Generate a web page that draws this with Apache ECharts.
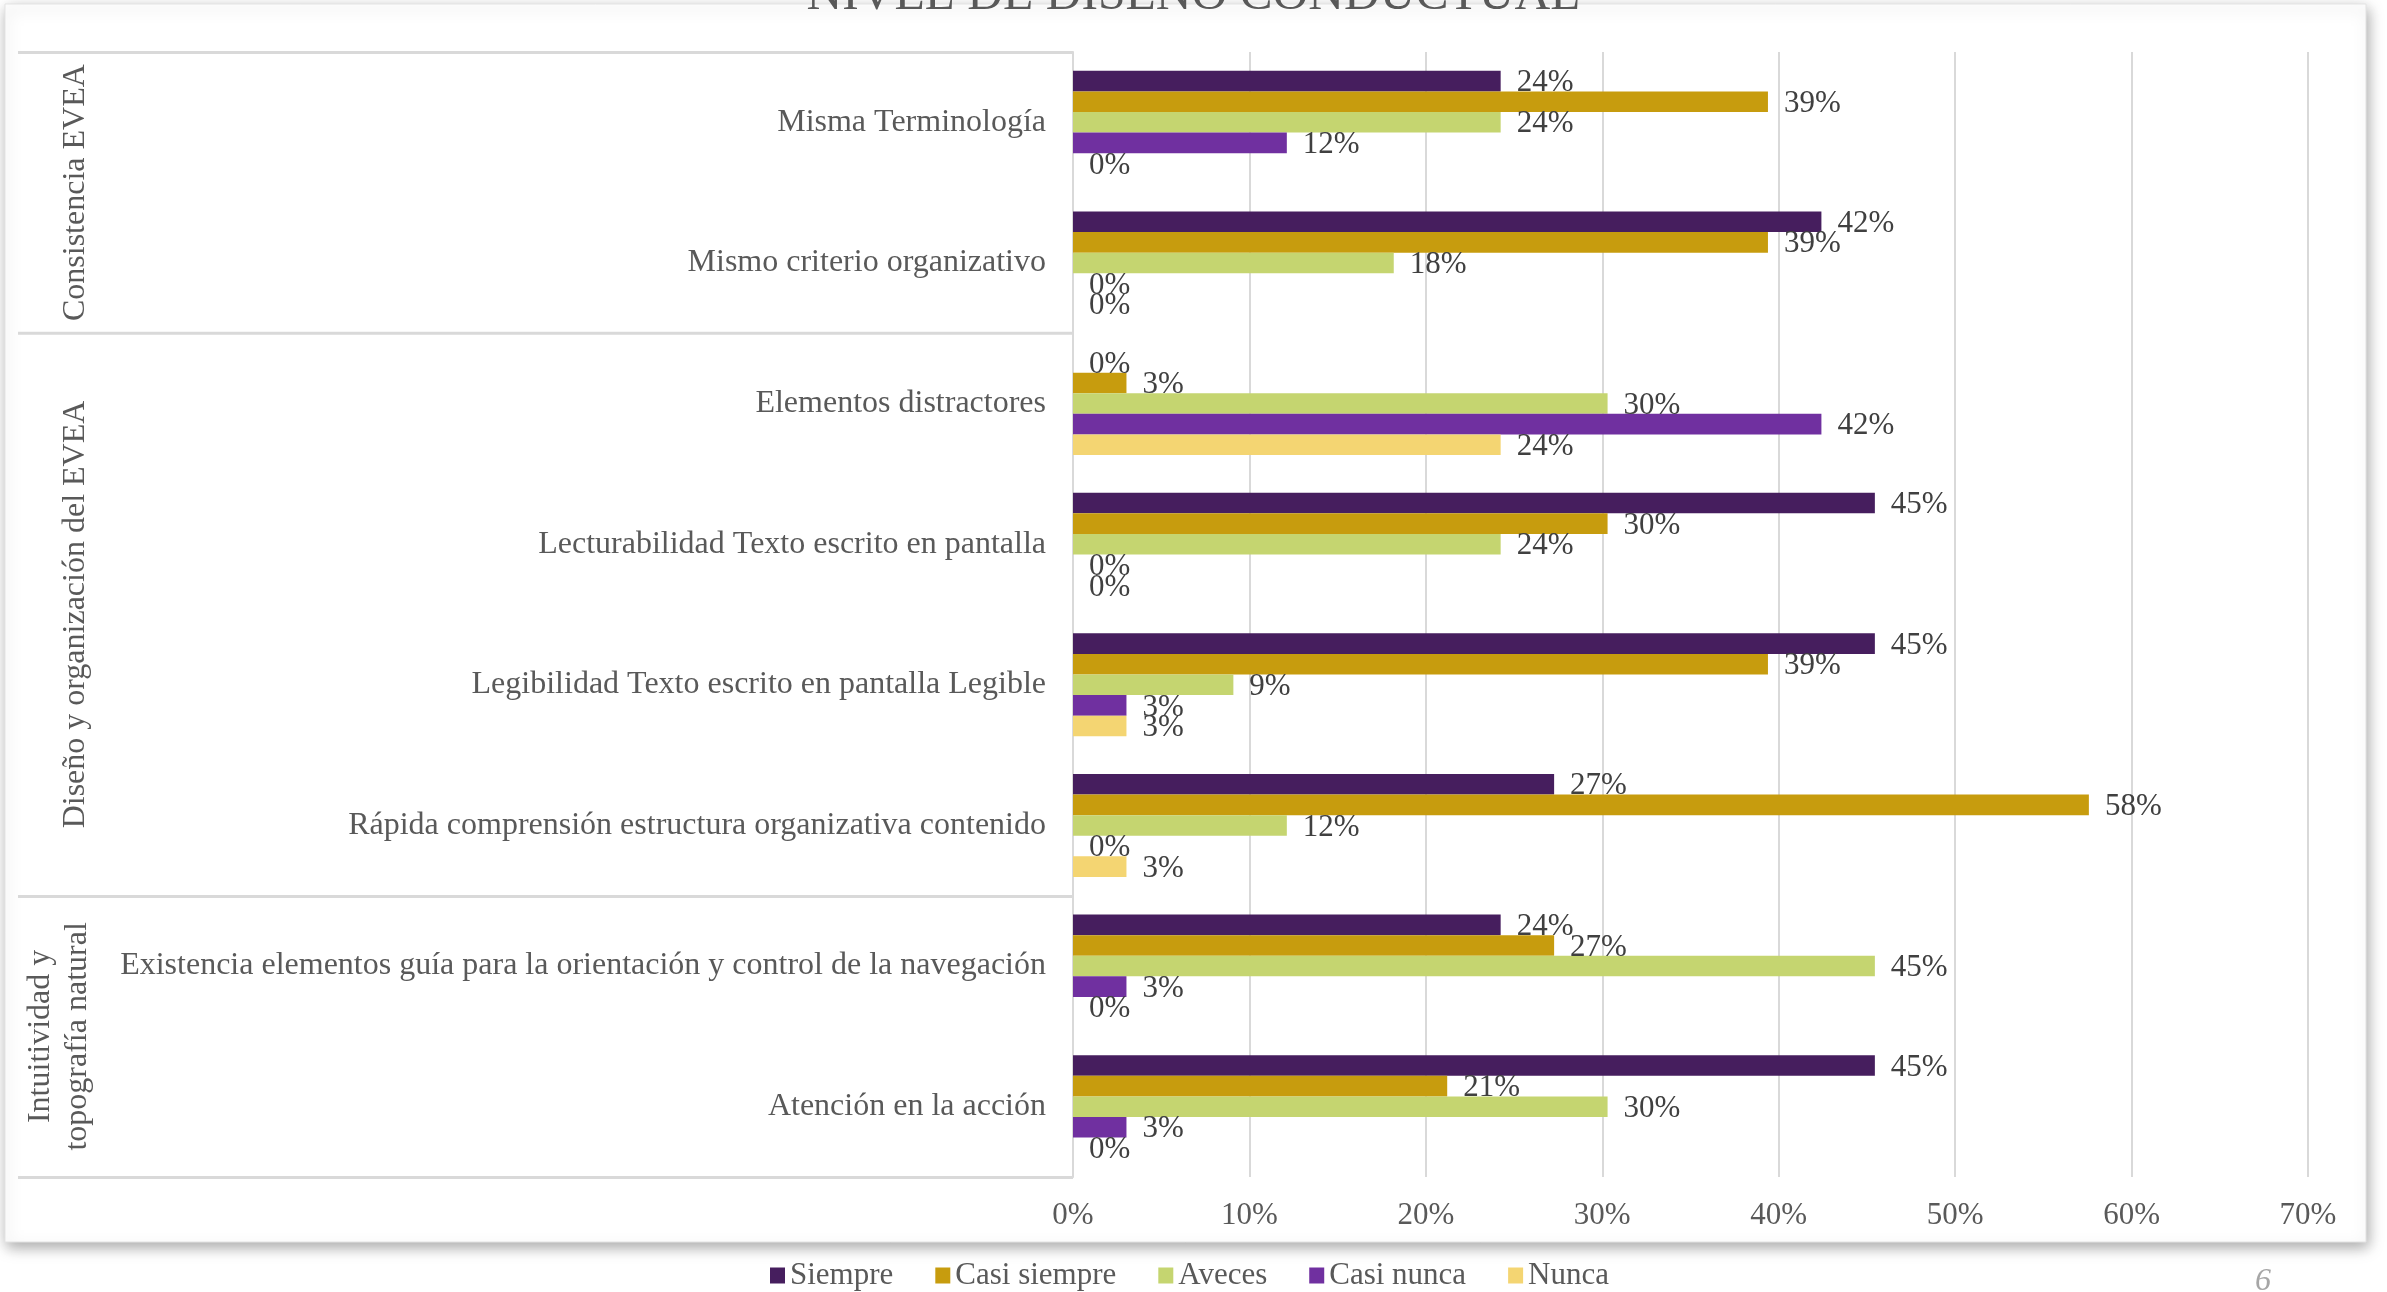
<!DOCTYPE html>
<html>
<head>
<meta charset="utf-8">
<title>Nivel de diseño conductual</title>
<script src="https://cdn.jsdelivr.net/npm/echarts@6/dist/echarts.min.js"></script>
<style>
html, body { margin: 0; padding: 0; background: #fff; }
#main { width: 2387px; height: 1292px; }
</style>
</head>
<body>
<div id="main"></div>
<script>
// categorias de arriba hacia abajo
var categorias = [
  'Misma Terminología',
  'Mismo criterio organizativo',
  'Elementos distractores',
  'Lecturabilidad Texto escrito en pantalla',
  'Legibilidad Texto escrito en pantalla Legible',
  'Rápida comprensión estructura organizativa contenido',
  'Existencia elementos guía para la orientación y control de la navegación',
  'Atención en la acción'
]
var grupos = [
  { nombre: 'Consistencia EVEA', desde: 0, hasta: 1 },
  { nombre: 'Diseño y organización del EVEA', desde: 2, hasta: 5 },
  { nombre: 'Intuitividad y\ntopografía natural', desde: 6, hasta: 7 }
]
var cortesGrupo = [0, 2, 6]

// porcentajes (n = 33)
var siempre     = [24.24, 42.42, 0,     45.45, 45.45, 27.27, 24.24, 45.45]
var casiSiempre = [39.39, 39.39, 3.03,  30.3,  39.39, 57.58, 27.27, 21.21]
var aveces      = [24.24, 18.18, 30.3,  24.24, 9.09,  12.12, 45.45, 30.3]
var casiNunca   = [12.12, 0,     42.42, 0,     3.03,  0,     3.03,  3.03]
var nunca       = [0,     0,     24.24, 0,     3.03,  3.03,  0,     0]

var nombresSerie = ['Siempre', 'Casi siempre', 'Aveces', 'Casi nunca', 'Nunca']
var valoresSerie = [siempre, casiSiempre, aveces, casiNunca, nunca]
var colores = ['#461E5E', '#C79C0E', '#C5D570', '#7030A0', '#F4D572']

var ejeMin = 0, ejeMax = 70, ejePaso = 10

var fuente = "'Liberation Serif', 'Times New Roman', serif"

var myChart = echarts.init(document.getElementById('main'))

var series = nombresSerie.map(function (nombre, i) {
  return {
    name: nombre,
    type: 'bar',
    data: valoresSerie[i],
    barWidth: 20.6,
    barGap: '0%',
    itemStyle: { color: colores[i] },
    label: {
      show: true,
      position: 'right',
      distance: 16,
      offset: [0, 2],
      color: '#404040',
      fontFamily: fuente,
      fontSize: 31,
      formatter: function (p) { return Math.round(p.value) + '%' }
    }
  }
})

var fondo = [
  {
    id: 'tarjeta',
    type: 'rect',
    z: -10,
    silent: true,
    shape: { x: 5, y: 4, width: 2361, height: 1238 },
    style: {
      fill: '#fff',
      stroke: '#E3E3E3',
      lineWidth: 1,
      shadowBlur: 14,
      shadowOffsetX: 2,
      shadowOffsetY: 5,
      shadowColor: 'rgba(0,0,0,0.35)'
    }
  },
  {
    id: 'pagina',
    type: 'text',
    x: 2255,
    y: 1266,
    style: { text: '6', fontFamily: fuente, fontStyle: 'italic', fontSize: 32, fill: '#A6A6A6' }
  }
]

myChart.setOption({
  animation: false,
  textStyle: { fontFamily: fuente },
  title: {
    text: 'NIVEL DE DISEÑO CONDUCTUAL',
    left: 'center',
    top: -34,
    textStyle: { fontFamily: fuente, fontSize: 49.5, fontWeight: 'normal', color: '#595959' }
  },
  legend: {
    data: nombresSerie,
    left: 765,
    top: 1255,
    icon: 'rect',
    itemWidth: 15,
    itemHeight: 16,
    itemGap: 42,
    textStyle: { fontFamily: fuente, fontSize: 31, color: '#595959' }
  },
  grid: { left: 1073, right: 79, top: 52, bottom: 115, containLabel: false },
  xAxis: {
    type: 'value',
    min: ejeMin,
    max: ejeMax,
    interval: ejePaso,
    axisLine: { show: false },
    axisTick: { show: false },
    axisLabel: { formatter: '{value}%', fontFamily: fuente, fontSize: 31, color: '#595959', margin: 23 },
    splitLine: { lineStyle: { color: '#D9D9D9', width: 2 } }
  },
  yAxis: {
    type: 'category',
    inverse: true,
    data: categorias,
    axisLine: { show: true, lineStyle: { color: '#D9D9D9', width: 2 } },
    axisTick: {
      show: true,
      length: 1055,
      interval: function (index) { return cortesGrupo.indexOf(index) >= 0 },
      lineStyle: { color: '#D9D9D9', width: 3 }
    },
    axisLabel: { fontFamily: fuente, fontSize: 32, color: '#595959', margin: 27 }
  },
  graphic: fondo,
  series: series
})

// etiquetas de grupo, centradas con la escala del eje
var etiquetasGrupo = grupos.map(function (g, i) {
  var y1 = myChart.convertToPixel({ yAxisIndex: 0 }, categorias[g.desde])
  var y2 = myChart.convertToPixel({ yAxisIndex: 0 }, categorias[g.hasta])
  return {
    id: 'grupo' + i,
    type: 'text',
    x: g.nombre.indexOf('\n') >= 0 ? 59 : 76,
    y: (y1 + y2) / 2,
    rotation: Math.PI / 2,
    style: {
      text: g.nombre,
      fontFamily: fuente,
      fontSize: 32,
      lineHeight: 37,
      fill: '#595959',
      align: 'center',
      verticalAlign: 'middle'
    }
  }
})
myChart.setOption({ graphic: fondo.concat(etiquetasGrupo) })
</script>
</body>
</html>
